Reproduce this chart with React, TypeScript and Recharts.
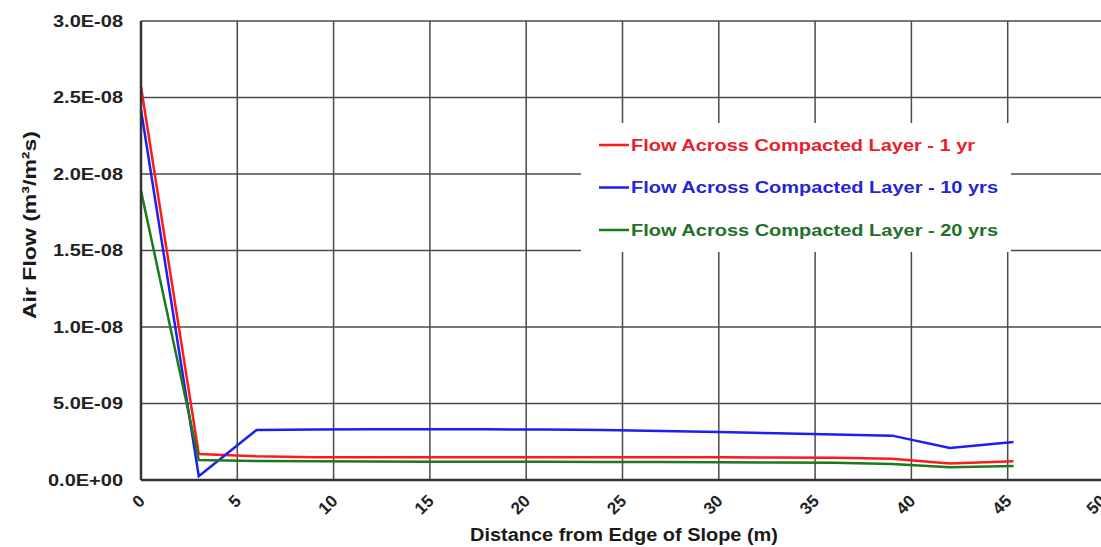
import React from 'react';
import { LineChart, Line, XAxis, YAxis, CartesianGrid, Legend, Label } from 'recharts';

// distance from edge of slope (m)
const distance = [0, 3, 6, 9, 12, 15, 18, 21, 24, 27, 30, 33, 36, 39, 42, 45.3];

// air flow (m3/m2s)
const flow1yr = [2.57e-8, 1.7e-9, 1.55e-9, 1.49e-9, 1.48e-9, 1.48e-9, 1.48e-9, 1.48e-9, 1.48e-9, 1.48e-9, 1.48e-9, 1.47e-9, 1.45e-9, 1.39e-9, 1.08e-9, 1.23e-9];
const flow10yrs = [2.42e-8, 2.5e-10, 3.27e-9, 3.3e-9, 3.31e-9, 3.31e-9, 3.31e-9, 3.3e-9, 3.27e-9, 3.2e-9, 3.13e-9, 3.06e-9, 2.98e-9, 2.9e-9, 2.1e-9, 2.48e-9];
const flow20yrs = [1.89e-8, 1.31e-9, 1.24e-9, 1.22e-9, 1.21e-9, 1.2e-9, 1.2e-9, 1.19e-9, 1.18e-9, 1.17e-9, 1.16e-9, 1.14e-9, 1.12e-9, 1.05e-9, 0.83e-9, 0.92e-9];

const seriesNames = [
  'Flow Across Compacted Layer - 1 yr',
  'Flow Across Compacted Layer - 10 yrs',
  'Flow Across Compacted Layer - 20 yrs',
];
const seriesColors = ['#ff1a1a', '#1e1ef0', '#1b7a1b'];
const legendTextColors = ['#e8202a', '#2424d8', '#22702a'];

const xTicks = [0, 5, 10, 15, 20, 25, 30, 35, 40, 45, 50];
const yTicks = [0, 5e-9, 1e-8, 1.5e-8, 2e-8, 2.5e-8, 3e-8];
const yTickLabels = ['0.0E+00', '5.0E-09', '1.0E-08', '1.5E-08', '2.0E-08', '2.5E-08', '3.0E-08'];

const FONT = '"Liberation Sans", Arial, sans-serif';

const chartData = distance.map((d, i) => ({
  distance: d,
  yr1: flow1yr[i],
  yrs10: flow10yrs[i],
  yrs20: flow20yrs[i],
}));

const YTick = (props: any) => {
  const { x, y, payload } = props;
  const idx = yTicks.findIndex((t) => Math.abs(t - payload.value) < 1e-12);
  const label = yTickLabels[idx] ?? '';
  return (
    <text
      x={x - 18}
      y={y}
      dy="0.36em"
      textAnchor="end"
      textLength={label.includes('+') ? 75 : 70}
      lengthAdjust="spacingAndGlyphs"
      fontSize={16}
      fontWeight={700}
      fontFamily={FONT}
      fill="#222"
    >
      {label}
    </text>
  );
};

const XTick = (props: any) => {
  const { x, y, payload } = props;
  const ax = x + 5;
  const ay = y + 22;
  return (
    <text
      x={ax}
      y={ay}
      transform={`rotate(-45, ${ax}, ${ay})`}
      textAnchor="end"
      fontSize={17}
      fontWeight={700}
      fontFamily={FONT}
      fill="#222"
    >
      {payload.value}
    </text>
  );
};

const LegendBox = () => {
  const widths = [344, 367, 367];
  return (
    <svg width={430} height={129} style={{ display: 'block' }}>
      {seriesNames.map((name, i) => {
        const cy = 22 + i * 42.5;
        return (
          <g key={name}>
            <line x1={18} x2={48} y1={cy} y2={cy} stroke={seriesColors[i]} strokeWidth={2.5} />
            <text
              x={50}
              y={cy + 5.5}
              textLength={widths[i]}
              lengthAdjust="spacingAndGlyphs"
              fontSize={16}
              fontWeight={700}
              fontFamily={FONT}
              fill={legendTextColors[i]}
            >
              {name}
            </text>
          </g>
        );
      })}
    </svg>
  );
};

export default function App() {
  return (
    <div style={{ position: 'absolute', left: 0, top: 0, width: 1101, height: 547, overflow: 'hidden', background: '#fff' }}>
      <LineChart width={1110} height={547} data={chartData} margin={{ top: 21, right: 6, bottom: 0, left: 0 }}>
        <CartesianGrid stroke="#4a4a4a" strokeWidth={1.5} />
        <XAxis
          dataKey="distance"
          type="number"
          domain={[0, 50]}
          ticks={xTicks}
          height={67}
          tickSize={0}
          tickMargin={0}
          axisLine={{ stroke: '#333', strokeWidth: 2.5 }}
          tick={<XTick />}
        >
          <Label
            content={() => (
              <text
                x={624}
                y={541}
                textAnchor="middle"
                textLength={308}
                lengthAdjust="spacingAndGlyphs"
                fontSize={18}
                fontWeight={700}
                fontFamily={FONT}
                fill="#1a1a1a"
              >
                Distance from Edge of Slope (m)
              </text>
            )}
          />
        </XAxis>
        <YAxis
          type="number"
          domain={[0, 3e-8]}
          ticks={yTicks}
          width={141}
          tickSize={0}
          tickMargin={0}
          axisLine={{ stroke: '#333', strokeWidth: 2.5 }}
          tick={<YTick />}
        >
          <Label
            content={() => (
              <text
                x={29}
                y={225}
                dy="0.36em"
                transform="rotate(-90, 29, 225)"
                textAnchor="middle"
                textLength={188}
                lengthAdjust="spacingAndGlyphs"
                fontSize={19}
                fontWeight={700}
                fontFamily={FONT}
                fill="#1a1a1a"
              >
                Air Flow (m³/m²s)
              </text>
            )}
          />
        </YAxis>
        <Legend
          layout="vertical"
          align="center"
          verticalAlign="middle"
          width={430}
          wrapperStyle={{ left: 581, top: 123, width: 430, height: 129, background: '#fff' }}
          content={<LegendBox />}
        />
        <Line type="linear" dataKey="yr1" name={seriesNames[0]} stroke={seriesColors[0]} strokeWidth={2.5} dot={false} isAnimationActive={false} />
        <Line type="linear" dataKey="yrs10" name={seriesNames[1]} stroke={seriesColors[1]} strokeWidth={2.5} dot={false} isAnimationActive={false} />
        <Line type="linear" dataKey="yrs20" name={seriesNames[2]} stroke={seriesColors[2]} strokeWidth={2.5} dot={false} isAnimationActive={false} />
      </LineChart>
    </div>
  );
}
